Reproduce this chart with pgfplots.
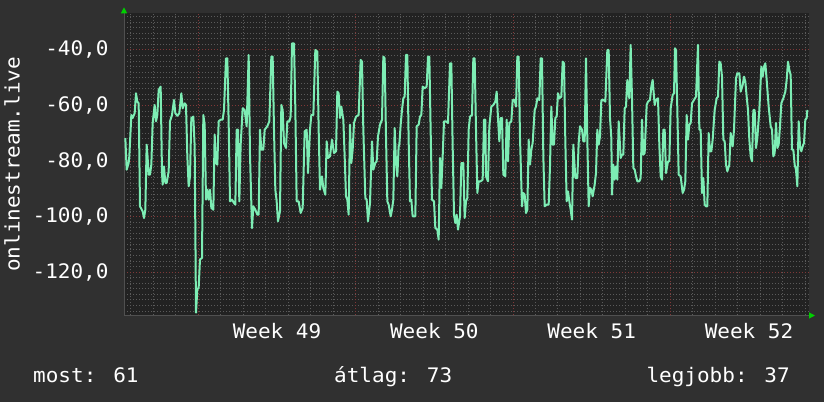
\documentclass[border=0pt]{standalone}
\usepackage{fontspec}
\setmainfont{DejaVu Sans Mono}[FakeStretch=1.05]
\usepackage{pgfplots}
\usepackage{pgfplotstable}
\pgfplotsset{compat=1.18}
\usetikzlibrary{arrows.meta}

\definecolor{outerbg}{HTML}{303030}
\definecolor{plotbg}{HTML}{222222}
\definecolor{gridminor}{HTML}{5A5A5A}
\definecolor{gridmajor}{HTML}{803838}
\definecolor{axisgrey}{HTML}{505050}
\definecolor{linecol}{HTML}{7DEDB4}
\definecolor{arrowgreen}{HTML}{00D000}

% x: time in units of 1/67.4 day (week boundaries at 229, 701, 1173, 1645)
\pgfplotstableread{
x y
10 -71.7
14 -83.1
20 -80.7
22 -78.3
28 -63.4
32 -64.5
38 -62.8
42 -55.6
46 -58.6
50 -59.2
54 -96.3
62 -98.1
66 -100.5
70 -97.5
74 -74.1
78 -80.7
80 -84.9
84 -84.9
88 -81.3
92 -66.3
98 -59.8
102 -65.7
106 -63.4
110 -54.4
116 -53.2
120 -84.3
122 -88.5
126 -81.9
130 -87.9
134 -87.9
140 -83.7
144 -65.7
150 -63.4
156 -58.0
160 -62.8
166 -63.7
172 -62.8
178 -55.6
182 -61.0
188 -59.2
192 -59.8
196 -78.3
200 -89.1
204 -85.5
208 -64.5
214 -64.0
218 -74.7
222 -134.6
226 -126.2
230 -125.6
234 -115.4
240 -114.9
244 -63.4
248 -66.9
252 -93.9
256 -90.3
260 -93.9
264 -90.3
268 -96.9
274 -97.5
278 -70.5
282 -80.7
286 -81.3
290 -65.7
296 -65.1
302 -65.1
306 -61.6
312 -43.0
316 -43.0
320 -66.3
324 -94.5
330 -93.9
336 -95.1
340 -95.7
344 -68.7
348 -68.7
352 -94.5
356 -74.1
362 -61.0
368 -61.6
374 -67.5
380 -41.8
384 -77.7
390 -104.1
394 -96.3
400 -97.5
406 -99.3
410 -99.3
414 -68.7
418 -75.9
424 -75.9
428 -68.7
436 -67.5
442 -65.7
448 -42.4
452 -42.4
456 -68.7
460 -90.3
464 -94.5
468 -101.7
474 -98.1
478 -59.8
482 -61.6
486 -73.5
492 -75.3
496 -65.7
502 -65.7
506 -64.0
510 -37.6
516 -37.6
520 -61.0
524 -94.5
530 -94.5
536 -98.7
542 -96.9
548 -69.3
554 -68.7
558 -84.3
564 -68.7
568 -63.4
574 -63.4
580 -40.0
586 -40.6
590 -68.7
594 -90.3
600 -85.5
604 -89.7
610 -92.1
614 -72.9
618 -78.9
624 -78.3
630 -72.3
636 -77.1
642 -76.5
646 -55.0
650 -55.6
654 -64.5
658 -60.4
664 -65.1
668 -78.3
672 -92.7
676 -93.9
680 -99.3
684 -66.9
688 -80.7
692 -75.9
696 -66.3
702 -64.0
710 -63.4
716 -43.6
720 -44.2
724 -68.7
730 -93.3
734 -93.9
738 -101.7
744 -95.1
750 -72.9
754 -83.1
760 -80.7
764 -80.1
768 -71.1
774 -66.9
780 -65.1
784 -42.4
788 -43.0
792 -71.1
796 -94.5
800 -95.7
806 -99.9
810 -97.5
814 -93.9
818 -68.1
822 -80.7
826 -85.5
830 -74.7
832 -74.1
836 -66.9
840 -61.6
844 -57.4
848 -56.8
852 -41.8
856 -41.8
860 -72.9
864 -94.5
868 -93.9
872 -99.9
880 -99.9
884 -67.5
890 -66.9
894 -64.0
898 -63.4
902 -53.2
908 -53.8
914 -53.2
918 -42.4
922 -42.4
926 -69.3
930 -93.9
936 -94.5
940 -104.1
946 -104.7
950 -108.3
954 -78.9
958 -89.7
962 -78.3
966 -65.7
972 -65.7
978 -66.3
984 -44.8
988 -44.8
992 -74.7
996 -99.3
1000 -102.3
1004 -99.3
1008 -104.7
1014 -99.9
1018 -80.7
1024 -80.7
1028 -100.5
1032 -94.5
1036 -93.3
1040 -68.7
1044 -64.0
1050 -63.4
1054 -43.0
1058 -43.0
1062 -68.7
1066 -91.5
1070 -87.3
1076 -87.3
1082 -86.7
1086 -65.1
1090 -65.1
1092 -85.5
1098 -87.3
1102 -67.5
1108 -60.4
1114 -59.8
1120 -58.6
1124 -55.0
1128 -64.5
1132 -72.9
1136 -64.5
1140 -64.5
1144 -84.9
1150 -85.5
1154 -65.1
1158 -80.1
1162 -66.3
1168 -65.7
1172 -58.0
1178 -58.0
1182 -60.4
1186 -42.4
1190 -42.4
1194 -71.7
1200 -96.3
1204 -91.5
1208 -92.1
1212 -98.7
1216 -97.5
1220 -72.3
1224 -81.3
1228 -75.9
1232 -73.5
1238 -61.6
1242 -60.4
1246 -57.4
1252 -58.0
1256 -43.0
1260 -43.0
1264 -78.3
1268 -96.3
1274 -95.7
1280 -95.7
1284 -81.9
1288 -60.4
1292 -74.1
1296 -74.1
1300 -64.5
1304 -64.0
1308 -55.6
1312 -57.4
1318 -56.8
1322 -44.2
1326 -44.8
1330 -72.9
1334 -94.5
1338 -90.9
1342 -94.5
1346 -97.5
1350 -101.1
1354 -74.1
1360 -86.1
1366 -86.1
1370 -73.5
1374 -67.5
1380 -68.7
1384 -72.9
1388 -72.9
1392 -43.0
1396 -72.3
1400 -96.3
1404 -89.7
1408 -90.3
1412 -92.7
1418 -88.5
1422 -84.3
1426 -68.7
1430 -74.1
1434 -71.1
1438 -58.0
1444 -58.0
1450 -58.6
1456 -40.0
1460 -40.0
1464 -64.5
1468 -71.7
1470 -92.1
1474 -81.3
1478 -86.7
1482 -81.9
1486 -86.7
1490 -65.7
1496 -78.9
1500 -77.7
1504 -77.7
1508 -61.0
1512 -60.4
1516 -50.8
1522 -57.4
1526 -38.2
1530 -57.4
1534 -82.5
1538 -83.1
1542 -85.5
1546 -87.3
1552 -87.3
1556 -86.1
1560 -65.1
1564 -77.7
1568 -77.1
1574 -59.8
1578 -58.6
1584 -58.0
1588 -53.2
1592 -50.8
1598 -59.8
1602 -58.0
1608 -57.4
1612 -74.1
1616 -85.5
1620 -86.7
1624 -68.7
1628 -68.7
1632 -84.3
1638 -80.1
1642 -80.1
1646 -61.0
1652 -56.2
1656 -55.6
1659 -39.4
1662 -40.0
1666 -61.6
1670 -84.9
1676 -85.5
1682 -91.5
1686 -90.3
1690 -87.3
1694 -63.4
1698 -72.3
1702 -66.9
1706 -66.3
1710 -59.2
1716 -58.0
1722 -56.8
1728 -38.2
1732 -68.7
1736 -68.7
1740 -91.5
1744 -86.1
1748 -95.7
1752 -96.3
1756 -96.3
1760 -69.9
1764 -76.5
1768 -76.5
1772 -72.3
1778 -61.6
1784 -57.4
1788 -56.8
1792 -44.2
1796 -44.8
1800 -49.6
1804 -72.3
1808 -72.9
1812 -81.3
1816 -83.7
1822 -81.3
1826 -69.9
1832 -74.7
1836 -68.7
1842 -50.2
1846 -48.4
1852 -48.4
1856 -55.0
1862 -52.6
1866 -49.6
1870 -51.4
1874 -56.8
1878 -61.6
1882 -72.3
1886 -78.3
1890 -80.1
1894 -61.6
1898 -61.6
1902 -75.3
1906 -71.7
1912 -61.6
1918 -46.0
1922 -49.6
1926 -46.0
1930 -44.8
1934 -50.8
1940 -60.4
1946 -67.5
1950 -68.7
1954 -78.3
1958 -77.1
1962 -66.3
1966 -75.3
1970 -74.1
1974 -67.5
1978 -59.2
1984 -57.4
1990 -55.0
1994 -50.8
1998 -44.2
2002 -47.2
2006 -49.0
2010 -75.9
2014 -75.9
2018 -81.3
2022 -83.1
2026 -89.1
2030 -65.7
2034 -74.7
2038 -76.5
2042 -74.7
2046 -73.5
2050 -65.1
2054 -64.5
2056 -61.6
}\onlinedata

\begin{document}
\begin{tikzpicture}
\fill[outerbg] (0bp,0bp) rectangle (824bp,402bp);
\begin{axis}[
    at={(124bp,86.5bp)}, anchor=south west,
    width=685bp, height=302.2bp, scale only axis,
    xmin=6, xmax=2061,
    ymin=-135.6, ymax=-26.8,
    axis background/.style={fill=plotbg},
    axis x line=bottom, axis y line=left,
    axis line style={draw=axisgrey, line width=1bp, shorten >=-6bp,
        -{Triangle[length=6bp,width=6bp,color=arrowgreen,fill=arrowgreen]}},
    xtick={465,937,1409,1881},
    xticklabels={Week 49,Week 50,Week 51,Week 52},
    extra x ticks={229,701,1173,1645},
    extra x tick labels={},
    extra x tick style={grid=major},
    minor xtick={26.7,94.1,161.6,296.4,363.9,431.3,498.7,566.1,633.6,768.4,835.9,903.3,970.7,1038.1,1105.6,1240.4,1307.9,1375.3,1442.7,1510.1,1577.6,1712.4,1779.9,1847.3,1914.7,1982.1,2049.6},
    ytick={-120,-100,-80,-60,-40},
    yticklabels={{-120,0},{-100,0},{-80,0},{-60,0},{-40,0}},
    minor ytick={-134,-132,-130,-128,-126,-124,-122,-118,-116,-114,-112,-110,-108,-106,-104,-102,-98,-96,-94,-92,-90,-88,-86,-84,-82,-78,-76,-74,-72,-70,-68,-66,-64,-62,-58,-56,-54,-52,-50,-48,-46,-44,-42,-38,-36,-34,-32,-30,-28},
    xmajorgrids=false, xminorgrids=true,
    ymajorgrids=true, yminorgrids=true,
    minor grid style={gridminor, line width=1bp, dash pattern=on 1bp off 2bp},
    major grid style={gridmajor, line width=1bp, dash pattern=on 1bp off 2bp},
    major tick length=0pt, minor tick length=0pt,
    ticklabel style={text=white, font=\fontsize{20bp}{24bp}\selectfont},
    yticklabel style={xshift=-12bp},
    xticklabel style={yshift=-4bp},
    ylabel={onlinestream.live},
    every axis y label/.style={at={(rel axis cs:0,0.5)}, xshift=-112bp, rotate=90,
        anchor=center, text=white, font=\fontsize{20bp}{24bp}\selectfont},
]
\addplot[linecol, line width=2bp, line join=round, mark=none] table {\onlinedata};
\end{axis}
\begin{scope}[every node/.style={text=white, font=\fontsize{20bp}{24bp}\selectfont, inner sep=0pt}]
\node[anchor=base west] at (33bp,20bp) {most: 61};
\node[anchor=base west] at (334bp,20bp) {átlag: 73};
\node[anchor=base east] at (790bp,20bp) {legjobb: 37};
\end{scope}
\end{tikzpicture}
\end{document}
